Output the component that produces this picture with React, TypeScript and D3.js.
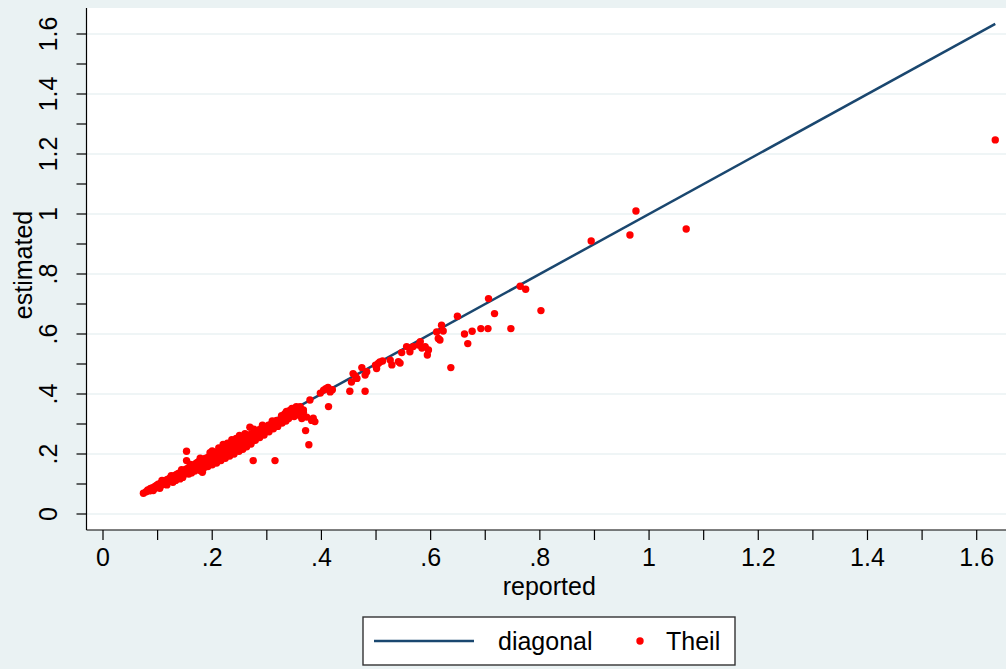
import React from 'react';
import * as d3 from 'd3';

// page size and plot region (Stata s2color look)
const width = 1006;
const height = 669;
const margin = { top: 8, right: 0, bottom: 139, left: 86.5 };

const bgColor = '#eaf2f3';
const lineColor = '#1a476f';
const dotColor = '#ff0000';
const font = '"Liberation Sans", Arial, sans-serif';

// tick values + labels (Stata drops the leading zero)
const xTickValues = [0, 0.2, 0.4, 0.6, 0.8, 1, 1.2, 1.4, 1.6];
const xTickLabels = ['0', '.2', '.4', '.6', '.8', '1', '1.2', '1.4', '1.6'];
const yTickValues = [0, 0.2, 0.4, 0.6, 0.8, 1, 1.2, 1.4, 1.6];
const yTickLabels = ['0', '.2', '.4', '.6', '.8', '1', '1.2', '1.4', '1.6'];
const minorTickValues = [0.1, 0.3, 0.5, 0.7, 0.9, 1.1, 1.3, 1.5];

// Theil: [reported, estimated] — dense band along the diagonal
const theilBand: [number, number][] = [
  [0.074, 0.069], [0.079, 0.074], [0.082, 0.08], [0.085, 0.077], [0.087, 0.085],
  [0.089, 0.081], [0.091, 0.088], [0.093, 0.084], [0.095, 0.092], [0.096, 0.087],
  [0.098, 0.095], [0.1, 0.09], [0.101, 0.099], [0.103, 0.093], [0.105, 0.102],
  [0.106, 0.096], [0.108, 0.105], [0.11, 0.098], [0.111, 0.108], [0.113, 0.101],
  [0.114, 0.112], [0.116, 0.104], [0.118, 0.115], [0.119, 0.107], [0.121, 0.118],
  [0.122, 0.109], [0.124, 0.121], [0.126, 0.112], [0.127, 0.124], [0.129, 0.115],
  [0.131, 0.128], [0.132, 0.118], [0.134, 0.131], [0.135, 0.121], [0.137, 0.134],
  [0.139, 0.124], [0.14, 0.137], [0.142, 0.127], [0.143, 0.14], [0.145, 0.129],
  [0.147, 0.143], [0.148, 0.132], [0.15, 0.147], [0.151, 0.135], [0.153, 0.15],
  [0.155, 0.138], [0.156, 0.153], [0.158, 0.141], [0.159, 0.157], [0.161, 0.144],
  [0.163, 0.16], [0.164, 0.147], [0.166, 0.163], [0.167, 0.15], [0.169, 0.167],
  [0.17, 0.153], [0.172, 0.171], [0.174, 0.156], [0.175, 0.174], [0.176, 0.148],
  [0.177, 0.16], [0.179, 0.178], [0.18, 0.152], [0.181, 0.163], [0.182, 0.139],
  [0.183, 0.181], [0.185, 0.167], [0.186, 0.158], [0.187, 0.185], [0.189, 0.171],
  [0.19, 0.161], [0.191, 0.188], [0.193, 0.175], [0.194, 0.165], [0.195, 0.192],
  [0.197, 0.179], [0.198, 0.169], [0.199, 0.196], [0.201, 0.183], [0.202, 0.173],
  [0.203, 0.2], [0.205, 0.187], [0.206, 0.177], [0.207, 0.204], [0.209, 0.191],
  [0.21, 0.181], [0.211, 0.208], [0.213, 0.195], [0.214, 0.185], [0.215, 0.212],
  [0.217, 0.199], [0.218, 0.189], [0.219, 0.217], [0.221, 0.203], [0.222, 0.193],
  [0.223, 0.221], [0.225, 0.207], [0.226, 0.197], [0.227, 0.225], [0.229, 0.211],
  [0.23, 0.2], [0.231, 0.229], [0.233, 0.215], [0.234, 0.204], [0.235, 0.233],
  [0.237, 0.219], [0.238, 0.208], [0.239, 0.237], [0.241, 0.223], [0.242, 0.212],
  [0.244, 0.241], [0.245, 0.227], [0.247, 0.217], [0.248, 0.246], [0.25, 0.231],
  [0.252, 0.222], [0.253, 0.25], [0.255, 0.236], [0.257, 0.227], [0.258, 0.255],
  [0.26, 0.241], [0.262, 0.232], [0.264, 0.26], [0.266, 0.246], [0.268, 0.238],
  [0.27, 0.265], [0.272, 0.251], [0.274, 0.244], [0.276, 0.27], [0.278, 0.257],
  [0.281, 0.276], [0.283, 0.262], [0.286, 0.281], [0.288, 0.268], [0.291, 0.286],
  [0.294, 0.274], [0.297, 0.291], [0.3, 0.28], [0.303, 0.296], [0.307, 0.287],
  [0.311, 0.3], [0.315, 0.294], [0.318, 0.312], [0.322, 0.305], [0.327, 0.328],
  [0.33, 0.318], [0.333, 0.334], [0.338, 0.327], [0.342, 0.345], [0.346, 0.352],
  [0.348, 0.338], [0.352, 0.334], [0.356, 0.347], [0.361, 0.345], [0.367, 0.339],
  [0.373, 0.323], [0.382, 0.312], [0.269, 0.289], [0.153, 0.209], [0.153, 0.178],
  [0.275, 0.178], [0.315, 0.178], [0.377, 0.231], [0.371, 0.278], [0.388, 0.308],
  // lower edge of the band
  [0.092, 0.078], [0.104, 0.086], [0.117, 0.097], [0.128, 0.106], [0.133, 0.112],
  [0.141, 0.117], [0.146, 0.122], [0.157, 0.133], [0.162, 0.137], [0.168, 0.143],
  [0.178, 0.145], [0.184, 0.152], [0.192, 0.158], [0.2, 0.164], [0.208, 0.17],
  [0.216, 0.178], [0.224, 0.186], [0.232, 0.193], [0.24, 0.2], [0.249, 0.209],
  [0.256, 0.216], [0.263, 0.224], [0.271, 0.233], [0.279, 0.246], [0.287, 0.255],
  [0.295, 0.263], [0.304, 0.274], [0.312, 0.284], [0.32, 0.292], [0.328, 0.303],
  // upper edge of the band
  [0.108, 0.112], [0.125, 0.128], [0.144, 0.148], [0.16, 0.165], [0.178, 0.186],
  [0.196, 0.204], [0.212, 0.22], [0.228, 0.236], [0.244, 0.252], [0.26, 0.268],
  [0.276, 0.283], [0.292, 0.296], [0.31, 0.31], [0.2, 0.21], [0.22, 0.232],
  [0.236, 0.248], [0.25, 0.262],
  // knot around .33-.36
  [0.335, 0.31], [0.34, 0.318], [0.344, 0.33], [0.35, 0.325], [0.358, 0.33],
  [0.364, 0.318], [0.336, 0.342], [0.354, 0.358],
];

// middle range .35 - .8
const theilMid: [number, number][] = [
  [0.361, 0.358], [0.367, 0.347], [0.379, 0.38], [0.385, 0.319], [0.413, 0.358],
  [0.398, 0.403], [0.404, 0.413], [0.408, 0.418], [0.412, 0.422], [0.416, 0.407],
  [0.42, 0.414], [0.452, 0.409], [0.48, 0.409], [0.455, 0.44], [0.458, 0.468],
  [0.462, 0.46], [0.465, 0.452], [0.474, 0.488], [0.48, 0.463], [0.483, 0.474],
  [0.499, 0.496], [0.501, 0.485], [0.504, 0.502], [0.507, 0.507], [0.512, 0.51],
  [0.526, 0.513], [0.529, 0.497], [0.541, 0.508], [0.544, 0.503], [0.547, 0.538],
  [0.556, 0.558], [0.562, 0.541], [0.568, 0.558], [0.578, 0.563], [0.581, 0.574],
  [0.584, 0.553], [0.59, 0.558], [0.596, 0.547], [0.594, 0.53], [0.637, 0.488],
  [0.611, 0.607], [0.62, 0.629], [0.623, 0.61], [0.614, 0.585], [0.617, 0.58],
  [0.649, 0.659], [0.662, 0.6], [0.668, 0.568], [0.676, 0.609], [0.692, 0.618],
  [0.705, 0.618], [0.747, 0.618], [0.706, 0.718], [0.717, 0.668], [0.764, 0.759],
  [0.774, 0.749], [0.802, 0.678],
];

// the few large ones
const theilHigh: [number, number][] = [
  [0.894, 0.91], [0.965, 0.93], [0.976, 1.01], [1.068, 0.95], [1.634, 1.247],
];

const theil = [...theilBand, ...theilMid, ...theilHigh];

const xScale = d3.scaleLinear().domain([0, 1.6]).range([103, 976.7]);
const yScale = d3.scaleLinear().domain([0, 1.6]).range([514, 34]);

export default function App() {
  const plotBottom = height - margin.bottom;
  const plotRight = width - margin.right;

  // diagonal runs over the range of reported values
  const ext = d3.extent(theil, d => d[0]) as [number, number];
  const diagonal = d3.line<number>().x(d => xScale(d)).y(d => yScale(d))(ext);

  const legendY = 641;

  return (
    <svg
      width={width}
      height={height}
      style={{ position: 'absolute', left: 0, top: 0, fontFamily: font }}
    >
      <rect x={0} y={0} width={width} height={height} fill={bgColor} />
      <rect
        x={margin.left}
        y={margin.top}
        width={plotRight - margin.left}
        height={plotBottom - margin.top}
        fill="#ffffff"
      />

      {/* horizontal grid */}
      {yTickValues.map(v => (
        <line
          key={'g' + v}
          x1={margin.left}
          x2={plotRight}
          y1={yScale(v)}
          y2={yScale(v)}
          stroke={bgColor}
          strokeWidth={1.6}
        />
      ))}

      <path d={diagonal || ''} fill="none" stroke={lineColor} strokeWidth={2.5} />

      {theil.map((d, i) => (
        <circle key={i} cx={xScale(d[0])} cy={yScale(d[1])} r={3.7} fill={dotColor} />
      ))}

      {/* axes */}
      <line x1={margin.left} x2={margin.left} y1={margin.top} y2={plotBottom} stroke="#000" strokeWidth={1.2} />
      <line x1={margin.left} x2={plotRight} y1={plotBottom} y2={plotBottom} stroke="#000" strokeWidth={1.2} />

      {[...xTickValues, ...minorTickValues].map(v => (
        <line
          key={'xt' + v}
          x1={xScale(v)}
          x2={xScale(v)}
          y1={plotBottom}
          y2={plotBottom + 10}
          stroke="#000"
          strokeWidth={1.2}
        />
      ))}
      {[...yTickValues, ...minorTickValues].map(v => (
        <line
          key={'yt' + v}
          x1={margin.left - 10}
          x2={margin.left}
          y1={yScale(v)}
          y2={yScale(v)}
          stroke="#000"
          strokeWidth={1.2}
        />
      ))}

      {xTickValues.map((v, i) => (
        <text key={'xl' + v} x={xScale(v)} y={566} textAnchor="middle" fontSize={25} fill="#000">
          {xTickLabels[i]}
        </text>
      ))}
      {yTickValues.map((v, i) => (
        <text
          key={'yl' + v}
          transform={`translate(57,${yScale(v)}) rotate(-90)`}
          textAnchor="middle"
          fontSize={25}
          fill="#000"
        >
          {yTickLabels[i]}
        </text>
      ))}

      <text x={(margin.left + plotRight) / 2 + 3} y={595} textAnchor="middle" fontSize={25} fill="#000">
        reported
      </text>
      <text
        transform={`translate(32,${(margin.top + plotBottom) / 2 - 4}) rotate(-90)`}
        textAnchor="middle"
        fontSize={25}
        fill="#000"
      >
        estimated
      </text>

      {/* legend */}
      <rect x={363} y={617} width={372} height={48} fill="#ffffff" stroke="#333" strokeWidth={1.4} />
      <line x1={374} x2={474} y1={legendY} y2={legendY} stroke={lineColor} strokeWidth={2.5} />
      <text x={498} y={legendY + 9} fontSize={25} fill="#000">diagonal</text>
      <circle cx={640} cy={legendY} r={3.7} fill={dotColor} />
      <text x={666} y={legendY + 9} fontSize={25} fill="#000">Theil</text>
    </svg>
  );
}
